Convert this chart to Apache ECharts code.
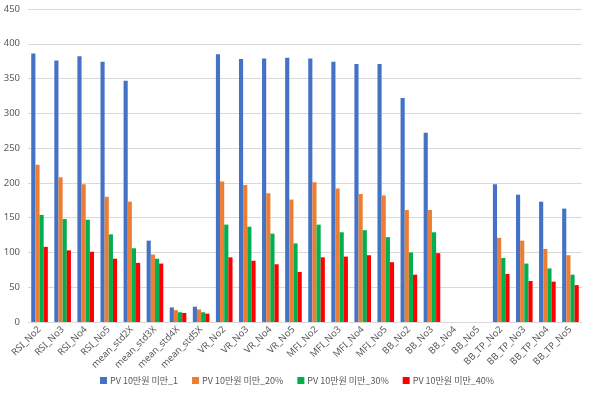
<!DOCTYPE html>
<html><head><meta charset="utf-8">
<script src="https://cdn.jsdelivr.net/npm/echarts@6/dist/echarts.min.js"></script>
<style>html,body{margin:0;padding:0;background:#fff}#c{width:594px;height:399px}</style>
</head><body><div id="c"></div>
<script>
const categories = ["RSI_No2","RSI_No3","RSI_No4","RSI_No5","mean_std2X","mean_std3X","mean_std4X","mean_std5X","VR_No2","VR_No3","VR_No4","VR_No5","MFI_No2","MFI_No3","MFI_No4","MFI_No5","BB_No2","BB_No3","BB_No4","BB_No5","BB_TP_No2","BB_TP_No3","BB_TP_No4","BB_TP_No5"];
const seriesNames = ["PV 10만원 미만_1","PV 10만원 미만_20%","PV 10만원 미만_30%","PV 10만원 미만_40%"];
const s1 = [386,376,382,374,347,117,21,22,385,378,379,380,379,374,371,371,322,272,null,null,198,183,173,163];
const s20 = [226,208,198,180,173,97,17,18,202,197,185,176,201,192,184,182,161,161,null,null,121,117,105,96];
const s30 = [154,148,147,126,106,91,14,14,140,137,127,113,140,129,132,122,100,129,null,null,92,84,77,68];
const s40 = [108,103,101,91,85,84,13,12,93,88,83,72,93,94,96,86,68,99,null,null,69,59,58,53];
const yTicks = {min:0, max:450, interval:50};
const colors = ["#4472C4","#ED7D31","#00B050","#FF0000"];
const data = [s1,s20,s30,s40];
const chart = echarts.init(document.getElementById('c'), null, {renderer:'canvas'});
chart.setOption({
  animation:false,
  textStyle:{fontFamily:'"Noto Sans CJK KR", "Noto Sans", sans-serif'},
  grid:{left:28,right:12,top:9,bottom:77,containLabel:false},
  legend:{bottom:9,left:'center',itemWidth:7,itemHeight:7,itemGap:14,icon:'rect',
    textStyle:{fontSize:9,color:'#595959',padding:[0,0,0,-2],fontFamily:'"Noto Sans CJK KR", sans-serif'},
    data:seriesNames},
  xAxis:{type:'category',data:categories,
    axisLine:{lineStyle:{color:'#d9d9d9'}},axisTick:{show:false},
    axisLabel:{rotate:45,fontSize:9.5,color:'#595959',interval:0,margin:6,fontFamily:'"Noto Sans", sans-serif'}},
  yAxis:{type:'value',min:yTicks.min,max:yTicks.max,interval:yTicks.interval,
    axisLine:{show:false},axisTick:{show:false},
    splitLine:{lineStyle:{color:'#d9d9d9'}},
    axisLabel:{fontSize:9.5,color:'#595959',margin:8,fontFamily:'"Noto Sans", sans-serif'}},
  series:data.map((d,i)=>({name:seriesNames[i],type:'bar',data:d,
    itemStyle:{color:colors[i]},barGap:'0%',barCategoryGap:'28%'}))
});
</script></body></html>
